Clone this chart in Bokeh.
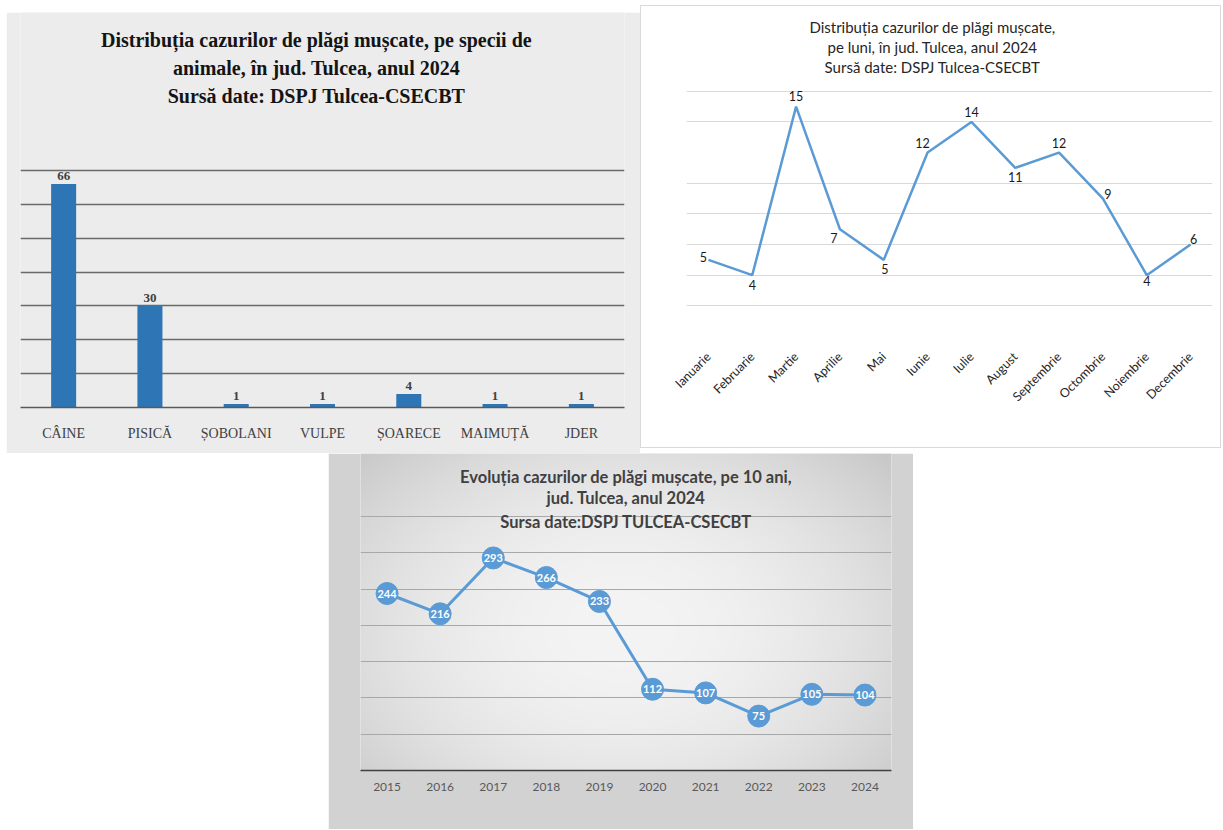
import numpy as np
from math import pi
from bokeh.plotting import figure
from bokeh.layouts import column, row
from bokeh.models import Range1d, FixedTicker, ColumnDataSource, Label, FactorRange
from bokeh.core.properties import value
from bokeh.embed import file_html
from bokeh.resources import INLINE

# ---------------- data ----------------
species = ["CÂINE", "PISICĂ", "ȘOBOLANI", "VULPE", "ȘOARECE", "MAIMUȚĂ", "JDER"]
species_cases = [66, 30, 1, 1, 4, 1, 1]

months = ["Ianuarie", "Februarie", "Martie", "Aprilie", "Mai", "Iunie", "Iulie",
          "August", "Septembrie", "Octombrie", "Noiembrie", "Decembrie"]
month_cases = [5, 4, 15, 7, 5, 12, 14, 11, 12, 9, 4, 6]

years = [2015, 2016, 2017, 2018, 2019, 2020, 2021, 2022, 2023, 2024]
year_cases = [244, 216, 293, 266, 233, 112, 107, 75, 105, 104]

# label placement (screen px offsets) for the monthly chart
month_label_offsets = [(-5, -3), (0, 10), (0, -11), (-6, 9), (1, 9), (-5, -10),
                       (0, -10), (0, 9), (0, -10), (5, -5), (0, 6), (3, -6)]

title1 = ["Distribuția cazurilor de plăgi mușcate, pe specii de",
          "animale, în jud. Tulcea, anul 2024",
          "Sursă date: DSPJ Tulcea-CSECBT"]
title2 = ["Distribuția cazurilor de plăgi mușcate,",
          "pe luni, în jud. Tulcea, anul 2024",
          "Sursă date: DSPJ Tulcea-CSECBT"]
title3 = ["Evoluția cazurilor de plăgi mușcate, pe 10 ani,",
          "jud. Tulcea, anul 2024",
          "Sursa date:DSPJ TULCEA-CSECBT"]

SERIF = "Liberation Serif"
SANS = "Lato"

# ---------------- chart 1: bars by species ----------------
# frame reaches the top of the panel so that the title lines sit inside it
p1 = figure(width=634, height=441, x_range=FactorRange(factors=species), y_range=Range1d(0, 116.7),
            output_backend="svg", toolbar_location=None, y_axis_location=None,
            min_border_left=14, min_border_right=16, min_border_top=0, min_border_bottom=46,
            background_fill_color="#ececec", border_fill_color="#ececec", outline_line_color=None,
            frame_align=False)
p1.margin = (12, 0, 0, 6)
src1 = ColumnDataSource(dict(x=species, y=species_cases, t=[str(v) for v in species_cases]))
p1.vbar(x="x", top="y", width=0.29, source=src1, fill_color="#2e75b6", line_color=None)
p1.text(x="x", y="y", text="t", source=src1, y_offset=-4, text_align="center", text_baseline="bottom",
        text_font=value(SERIF), text_font_size="13px", text_font_style="bold", text_color="#404040")
p1.xgrid.grid_line_color = None
p1.ygrid.ticker = FixedTicker(ticks=list(range(0, 71, 10)))
p1.ygrid.grid_line_color = "#6a6a6a"
p1.ygrid.grid_line_width = 1.5
p1.xaxis.axis_line_color = "#595959"
p1.xaxis.axis_line_width = 1.5
p1.xaxis.major_tick_line_color = None
p1.xaxis.major_label_standoff = 12
p1.xaxis.major_label_text_font = SERIF
p1.xaxis.major_label_text_font_size = "14px"
p1.xaxis.major_label_text_color = "#404040"
for line, ty in zip(title1, [368, 340, 312]):
    p1.add_layout(Label(x=296, y=ty, x_units="screen", y_units="screen", text=line,
                        text_align="center", text_baseline="middle", text_font=SERIF,
                        text_font_size="20px", text_font_style="bold", text_color="#141414"))

# ---------------- chart 2: monthly line ----------------
p2 = figure(width=581, height=443, x_range=FactorRange(factors=months), y_range=Range1d(0, 21.53),
            output_backend="svg", toolbar_location=None, y_axis_location=None,
            min_border_left=45, min_border_right=10, min_border_top=0, min_border_bottom=113,
            background_fill_color="white", border_fill_color="white", outline_line_color=None,
            frame_align=False)
p2.margin = (5, 0, 0, 0)
p2.styles = {"border": "1px solid #d9d9d9"}
src2 = ColumnDataSource(dict(x=months, y=month_cases, t=[str(v) for v in month_cases],
                             dx=[o[0] for o in month_label_offsets], dy=[o[1] for o in month_label_offsets]))
p2.line(x="x", y="y", source=src2, line_color="#5b9bd5", line_width=2.5)
p2.text(x="x", y="y", text="t", source=src2, x_offset="dx", y_offset="dy", text_align="center",
        text_baseline="middle", text_font=value(SANS), text_font_size="12.5px", text_color="#1a1a1a")
p2.xgrid.grid_line_color = None
p2.ygrid.ticker = FixedTicker(ticks=[2, 4, 6, 8, 10, 14, 16])
p2.ygrid.grid_line_color = "#d9d9d9"
p2.xaxis.axis_line_color = None
p2.xaxis.major_tick_line_color = None
p2.xaxis.major_label_orientation = pi / 4
p2.xaxis.major_label_standoff = 12
p2.xaxis.major_label_text_font = SANS
p2.xaxis.major_label_text_font_size = "12.5px"
p2.xaxis.major_label_text_color = "#262626"
for line, ty in zip(title2, [310, 290, 270]):
    p2.add_layout(Label(x=246, y=ty, x_units="screen", y_units="screen", text=line,
                        text_align="center", text_baseline="middle", text_font=SANS,
                        text_font_size="15px", text_color="#262626"))

# ---------------- chart 3: 10-year evolution ----------------
YMAX = 437
p3 = figure(width=585, height=376, x_range=Range1d(-0.5, len(years) - 0.5), y_range=Range1d(0, YMAX),
            output_backend="svg", toolbar_location=None, y_axis_location=None,
            min_border_left=32, min_border_right=22, min_border_top=0, min_border_bottom=59,
            background_fill_color="#e6e6e6", border_fill_color="#d2d2d2", outline_line_color=None,
            frame_align=False)
p3.margin = (0, 0, 0, 328)
# radial background gradient
H, W = 317, 531
yy, xx = np.mgrid[0:H, 0:W]
px = xx + 32
py = (H - 1 - yy)
r2 = ((px - 292) / 330.0) ** 2 + ((py - 175) / 230.0) ** 2
g = np.clip(244 - 36 * r2, 195, 245).astype(np.uint8)
img = np.empty((H, W), dtype=np.uint32)
view = img.view(dtype=np.uint8).reshape((H, W, 4))
view[..., 0] = g
view[..., 1] = g
view[..., 2] = g
view[..., 3] = 255
p3.image_rgba(image=[img], x=-0.5, y=0, dw=len(years), dh=YMAX, level="image")

idx = list(range(len(years)))
src3 = ColumnDataSource(dict(x=idx, y=year_cases, t=[str(v) for v in year_cases]))
p3.line(x="x", y="y", source=src3, line_color="#5b9bd5", line_width=3)
p3.scatter(x="x", y="y", source=src3, size=22, fill_color="#5b9bd5", line_color="#5b9bd5")
p3.text(x="x", y="y", text="t", source=src3, text_align="center", text_baseline="middle",
        text_font=value(SANS), text_font_size="11px", text_font_style="bold", text_color="white")
p3.xgrid.grid_line_color = None
p3.ygrid.ticker = FixedTicker(ticks=list(range(50, 351, 50)))
p3.ygrid.grid_line_color = "#a8a8a8"
p3.xaxis.ticker = FixedTicker(ticks=idx)
p3.xaxis.major_label_overrides = {i: str(y) for i, y in zip(idx, years)}
p3.xaxis.axis_line_color = "#404040"
p3.xaxis.axis_line_width = 1.5
p3.xaxis.major_tick_line_color = None
p3.xaxis.minor_tick_line_color = None
p3.xaxis.major_label_standoff = 6
p3.xaxis.major_label_text_font = SANS
p3.xaxis.major_label_text_font_size = "12px"
p3.xaxis.major_label_text_color = "#595959"
for line, ty in zip(title3, [404, 375, 342]):
    p3.add_layout(Label(x=4.5, y=ty, text=line, text_align="center", text_baseline="middle",
                        text_font=SANS, text_font_size="16.5px", text_font_style="bold",
                        text_color="#404040"))

layout = column(row(p1, p2), p3)
open("out.html", "w").write(file_html(layout, INLINE))
